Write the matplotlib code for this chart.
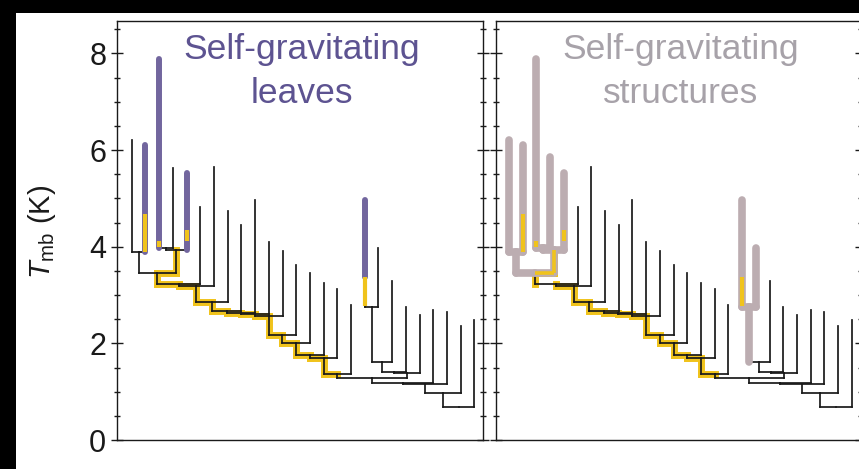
import matplotlib.pyplot as plt
from matplotlib.patches import Rectangle
from matplotlib.ticker import MultipleLocator

plt.rcParams['font.family'] = ['Liberation Sans', 'DejaVu Sans']
plt.rcParams['mathtext.fontset'] = 'custom'
plt.rcParams['mathtext.rm'] = 'Liberation Sans'
plt.rcParams['mathtext.it'] = 'Liberation Sans:italic'

# peak brightness of each leaf (K), leaves 1..26 from left to right
leaf_top = [6.20, 6.10, 7.88, 5.62, 5.53, 4.83, 5.64, 4.74, 4.44, 4.97,
            4.09, 3.92, 3.62, 3.45, 3.24, 3.12, 2.80, 4.97, 3.97, 3.28,
            2.75, 2.59, 2.69, 2.64, 2.36, 2.48]
leaf_top_right = list(leaf_top)
leaf_top_right[3] = 5.85

# merges: (child a, child b, level). positive = leaf number, -k = k-th merge
merges = [(1, 2, 3.88), (3, 4, 3.97), (-2, 5, 3.93), (-1, -3, 3.45),
          (-4, 6, 3.22), (-5, 7, 3.19), (-6, 8, 2.86), (-7, 9, 2.66),
          (-8, 10, 2.62), (-9, 11, 2.60), (-10, 12, 2.57), (-11, 13, 2.17),
          (-12, 14, 2.00), (-13, 15, 1.76), (-14, 16, 1.69), (-15, 17, 1.37),
          (18, 19, 2.76), (-17, 20, 1.62), (-18, 21, 1.40), (-19, 22, 1.38),
          (-16, -20, 1.28), (-21, 23, 1.18), (-22, 24, 1.16), (-23, 25, 0.97),
          (-24, 26, 0.69)]

# highlighted links (node -> its parent): 'v' vertical, 'h' horizontal
yellow_left = {-3: 'vh', -4: 'vh', -5: 'vh', -6: 'vh', -7: 'vh', -8: 'vh',
               -9: 'vh', -10: 'vh', -11: 'vh', -12: 'vh', -13: 'vh',
               -14: 'vh', -15: 'vh'}
yellow_right = dict(yellow_left)
yellow_right[-4] = 'v'
grey_right = {1: 'vh', 2: 'vh', 3: 'vh', 4: 'vh', 5: 'vh', -1: 'vh',
              -2: 'vh', -3: 'vh', 18: 'vh', 19: 'vh', -17: 'v'}

# leaf segments (leaf, top, bottom)
purple_leaves = [(2, 6.10, 3.88), (3, 7.88, 3.97), (5, 5.53, 3.93), (18, 4.97, 3.38)]
yellow_leaves = [(2, 4.68, 3.90), (3, 4.12, 4.00), (5, 4.35, 4.12), (18, 3.38, 2.78)]

purple = '#72669e'
purple_txt = '#5d5391'
grey = '#bcadb1'
grey_txt = '#a7a2a9'
yellow = '#f0c31c'
ink = '#1a1a1a'


def layout(tops):
    xs, hs, parent = {}, {}, {}
    for i in range(1, len(tops) + 1):
        xs[i] = float(i)
        hs[i] = tops[i - 1]
    for k, (a, b, h) in enumerate(merges, start=1):
        xs[-k] = (xs[a] + xs[b]) / 2
        hs[-k] = h
        parent[a] = -k
        parent[b] = -k
    return xs, hs, parent


def draw_link(ax, n, xs, hs, parent, parts='vh', **kw):
    p = parent[n]
    if 'v' in parts:
        ax.plot([xs[n], xs[n]], [hs[n], hs[p]], **kw)
    if 'h' in parts:
        ax.plot([xs[n], xs[p]], [hs[p], hs[p]], **kw)


def panel(ax, tops, yellow_links, grey_links, title, title_col):
    xs, hs, parent = layout(tops)
    for n in parent:
        draw_link(ax, n, xs, hs, parent, color=ink, lw=1.25,
                  solid_capstyle='projecting', zorder=2)
    for n, parts in yellow_links.items():
        draw_link(ax, n, xs, hs, parent, parts, color=yellow, lw=5.0,
                  solid_capstyle='projecting', zorder=1)
    for n, parts in grey_links.items():
        draw_link(ax, n, xs, hs, parent, parts, color=grey, lw=5.5,
                  solid_capstyle='round', zorder=3)
        if n in yellow_links:
            draw_link(ax, n, xs, hs, parent, yellow_links[n], color=yellow,
                      lw=2.6, solid_capstyle='butt', zorder=3.5)
    if not grey_links:
        for leaf, t, b in purple_leaves:
            ax.plot([leaf, leaf], [t, b], color=purple, lw=4.3,
                    solid_capstyle='round', zorder=3)
    for leaf, t, b in yellow_leaves:
        ax.plot([leaf, leaf], [t, b], color=yellow, lw=3.0,
                solid_capstyle='butt', zorder=4)

    words = title.split('\n')
    ax.text(0.505, 0.9086, words[0], transform=ax.transAxes, ha='center',
            va='baseline', fontsize=25.5, color=title_col)
    ax.text(0.505, 0.804, words[1], transform=ax.transAxes, ha='center',
            va='baseline', fontsize=25.5, color=title_col)

    ax.set_ylim(0, 8.67)
    ax.set_xticks([])
    ax.yaxis.set_major_locator(MultipleLocator(2))
    ax.yaxis.set_minor_locator(MultipleLocator(0.5))
    ax.tick_params(axis='y', which='both', direction='inout', left=True,
                   right=True, width=1.0, colors=ink)
    ax.tick_params(axis='y', which='major', length=8, pad=4, labelsize=22)
    ax.tick_params(axis='y', which='minor', length=5)
    for s in ax.spines.values():
        s.set_linewidth(1.0)
        s.set_color(ink)


fig = plt.figure(figsize=(8.59, 4.69), dpi=100, facecolor='black')
fig.patches.append(Rectangle((16 / 859, 0), 1, 1 - 13 / 469,
                             transform=fig.transFigure, facecolor='white',
                             edgecolor='none', zorder=-10))

ax1 = fig.add_axes([117.3 / 859, 29 / 469, 365.4 / 859, 419 / 469])
ax2 = fig.add_axes([496 / 859, 29 / 469, 365.4 / 859, 419 / 469])

panel(ax1, leaf_top, yellow_left, {}, 'Self-gravitating\nleaves', purple_txt)
panel(ax2, leaf_top_right, yellow_right, grey_right,
      'Self-gravitating\nstructures', grey_txt)
ax1.set_xlim(-0.05, 26.6)
ax2.set_xlim(0.05, 26.7)
ax2.tick_params(axis='y', labelleft=False)

fig.text(42 / 859, 1 - 232 / 469, r'$T_{\rm mb}$ (K)', rotation=90,
         ha='center', va='center', fontsize=21, color=ink)

fig.savefig('out.png', dpi=100, facecolor=fig.get_facecolor())
